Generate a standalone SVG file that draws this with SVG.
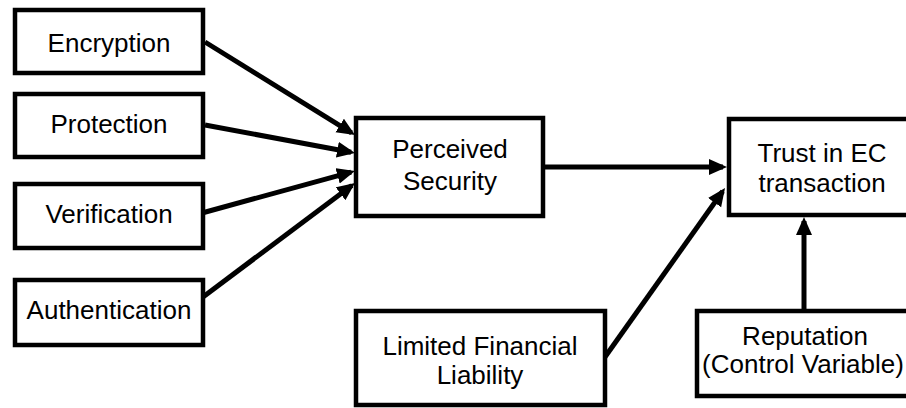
<svg xmlns="http://www.w3.org/2000/svg" width="906" height="408" viewBox="0 0 906 408">
  <defs>
    <marker id="arrow" markerUnits="userSpaceOnUse" markerWidth="20" markerHeight="18" refX="14" refY="8" orient="auto">
      <path d="M0,0 L18,8 L0,16 z" fill="#000"/>
    </marker>
    <style>
      .box { fill: #fff; stroke: #000; stroke-width: 4.5; }
      .lbl { font-family: "Liberation Sans", Arial, sans-serif; font-size: 26px; fill: #000; text-anchor: middle; }
      .edge { stroke: #000; stroke-width: 5; fill: none; marker-end: url(#arrow); }
    </style>
  </defs>
  <rect width="906" height="408" fill="#fff"/>

  <g id="connectors">
    <line class="edge" x1="205" y1="42" x2="351.6" y2="132.9"/>
    <line class="edge" x1="205" y1="125" x2="351.1" y2="152.3"/>
    <line class="edge" x1="202" y1="213" x2="351.1" y2="172.1"/>
    <line class="edge" x1="203" y1="297" x2="351.8" y2="185.4"/>
    <line class="edge" x1="543" y1="167" x2="723" y2="167"/>
    <line class="edge" x1="605" y1="357" x2="722.7" y2="191.3"/>
    <line class="edge" x1="804" y1="311" x2="804" y2="221"/>
  </g>

  <g id="encryption">
    <rect class="box" x="15" y="10" width="188" height="63"/>
    <text class="lbl" x="109" y="52">Encryption</text>
  </g>
  <g id="protection">
    <rect class="box" x="15" y="94" width="188" height="63"/>
    <text class="lbl" x="109" y="133">Protection</text>
  </g>
  <g id="verification">
    <rect class="box" x="15" y="184" width="188" height="64"/>
    <text class="lbl" x="109" y="223">Verification</text>
  </g>
  <g id="authentication">
    <rect class="box" x="15" y="280" width="188" height="65"/>
    <text class="lbl" x="109" y="319">Authentication</text>
  </g>
  <g id="perceived-security">
    <rect class="box" x="356" y="118" width="187" height="98"/>
    <text class="lbl" x="450" y="158">Perceived</text>
    <text class="lbl" x="450" y="190">Security</text>
  </g>
  <g id="trust">
    <rect class="box" x="729" y="119" width="190" height="96"/>
    <text class="lbl" x="822" y="162">Trust in EC</text>
    <text class="lbl" x="822" y="192">transaction</text>
  </g>
  <g id="limited-liability">
    <rect class="box" x="356" y="311" width="249" height="94"/>
    <text class="lbl" x="480" y="355">Limited Financial</text>
    <text class="lbl" x="480" y="384">Liability</text>
  </g>
  <g id="reputation">
    <rect class="box" x="697" y="311" width="222" height="85"/>
    <text class="lbl" x="805" y="345">Reputation</text>
    <text class="lbl" x="803" y="373">(Control Variable)</text>
  </g>
</svg>
